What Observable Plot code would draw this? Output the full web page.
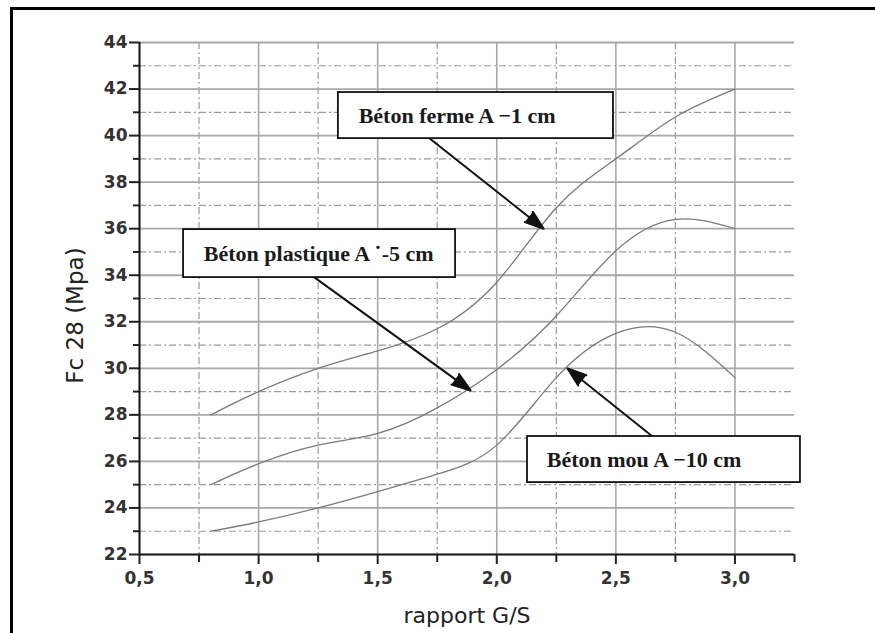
<!DOCTYPE html>
<html>
<head>
<meta charset="utf-8">
<script src="https://cdn.jsdelivr.net/npm/d3@7"></script>
<script src="https://cdn.jsdelivr.net/npm/@observablehq/plot@0.6"></script>
<style>
  html, body { margin: 0; padding: 0; background: #fff; overflow: hidden; }
  #wrap { position: relative; width: 875px; height: 633px; overflow: hidden; background: #fff; }
  .edge { position: absolute; background: #000; }
  #wrap svg { position: absolute; left: 0; top: 0; }
</style>
</head>
<body>
<div id="wrap">
  <div class="edge" style="left:10px; top:7px; width:880px; height:3px;"></div>
  <div class="edge" style="left:10px; top:7px; width:3px; height:640px;"></div>
</div>
<script>
// ---- data ----
const gsRatio = [0.8, 1.0, 1.25, 1.5, 1.75, 2.0, 2.25, 2.5, 2.75, 3.0];
const betonFerme = [28, 29, 30, 30.75, 31.7, 33.7, 36.9, 39.0, 40.8, 42];
const betonPlastique = [25, 25.9, 26.7, 27.2, 28.3, 29.95, 32.25, 35.05, 36.4, 36.0];
const betonMou = [23, 23.4, 24.0, 24.7, 25.45, 26.7, 29.6, 31.5, 31.55, 29.6];
const seriesNames = ["Béton ferme", "Béton plastique", "Béton mou"];

const xTickLabels = [0.5, 1.0, 1.5, 2.0, 2.5, 3.0];
const xMinorTicks = [0.75, 1.25, 1.75, 2.25, 2.75, 3.25];
const xGridMajor = [1.0, 1.5, 2.0, 2.5, 3.0];
const xGridMinor = [0.75, 1.25, 1.75, 2.25, 2.75];
const yTickLabels = [22, 24, 26, 28, 30, 32, 34, 36, 38, 40, 42, 44];
const yMinorTicks = [23, 25, 27, 29, 31, 33, 35, 37, 39, 41, 43];

// annotations (data units)
const noteText = ["Béton ferme A −1 cm", "Béton plastique A ˙-5 cm", "Béton mou A −10 cm"];
const noteX = [1.42, 0.77, 2.21];
const noteY = [40.86, 34.93, 26.08];
const boxX1 = [1.335, 0.685, 2.129];
const boxX2 = [2.49, 1.827, 3.275];
const boxY1 = [39.87, 33.90, 25.09];
const boxY2 = [41.85, 35.96, 27.07];
const arrowX1 = [1.713, 1.23, 2.654];
const arrowY1 = [39.92, 33.94, 27.07];
const arrowX2 = [2.197, 1.89, 2.297];
const arrowY2 = [36.0, 29.05, 29.99];

// ---- build tables ----
const seriesValues = [betonFerme, betonPlastique, betonMou];
const rows = [];
seriesValues.forEach((vals, s) => vals.forEach((v, i) => rows.push({series: seriesNames[s], gs: gsRatio[i], fc: v})));
const notes = noteText.map((t, i) => ({
  text: t, x: noteX[i], y: noteY[i],
  bx1: boxX1[i], bx2: boxX2[i], by1: boxY1[i], by2: boxY2[i],
  ax1: arrowX1[i], ay1: arrowY1[i], ax2: arrowX2[i], ay2: arrowY2[i]
}));

const fmtX = d => d.toFixed(1).replace(".", ",");
const dash = "7,3,2,3";

const chart = Plot.plot({
  width: 875,
  height: 633,
  marginLeft: 139,
  marginRight: 81,
  marginTop: 42,
  marginBottom: 79,
  x: {domain: [0.5, 3.25]},
  y: {domain: [22, 44]},
  style: {fontFamily: "DejaVu Sans", fontSize: "17px", color: "#222", background: "transparent"},
  marks: [
    Plot.gridY(yMinorTicks, {stroke: "#9a9a9a", strokeOpacity: 1, strokeWidth: 1.2, strokeDasharray: dash}),
    Plot.gridX(xGridMinor, {stroke: "#9a9a9a", strokeOpacity: 1, strokeWidth: 1.2, strokeDasharray: dash}),
    Plot.gridY(yTickLabels.slice(1), {stroke: "#a8a8a8", strokeOpacity: 1, strokeWidth: 1.8}),
    Plot.gridX(xGridMajor, {stroke: "#a8a8a8", strokeOpacity: 1, strokeWidth: 1.6}),
    Plot.line(rows, {x: "gs", y: "fc", z: "series", stroke: "#7a7a7a", strokeWidth: 1.3, curve: "natural"}),
    Plot.ruleX([0.5], {stroke: "#111", strokeWidth: 2}),
    Plot.ruleY([22], {stroke: "#111", strokeWidth: 2.2}),
    Plot.axisY(yTickLabels, {tickSize: 10, tickPadding: 2, tickFormat: d => String(d), stroke: "#222", strokeWidth: 2,
      fill: "#333", fontWeight: "bold", fontSize: 17, label: null}),
    Plot.axisY(yMinorTicks, {tickSize: 6, tickFormat: () => "", stroke: "#222", strokeWidth: 2, label: null}),
    Plot.axisX(xTickLabels, {tickSize: 10, tickPadding: 7, tickFormat: fmtX, stroke: "#222", strokeWidth: 2,
      fill: "#333", fontWeight: "bold", fontSize: 17, label: null}),
    Plot.axisX(xMinorTicks, {tickSize: 8, tickFormat: () => "", stroke: "#222", strokeWidth: 2, label: null}),
    Plot.arrow(notes, {x1: "ax1", y1: "ay1", x2: "ax2", y2: "ay2", stroke: "#111", strokeWidth: 2,
      headLength: 15, headAngle: 38}),
    Plot.rect(notes, {x1: "bx1", x2: "bx2", y1: "by1", y2: "by2", fill: "white", stroke: "#111", strokeWidth: 1.8}),
    Plot.text(notes, {x: "x", y: "y", text: "text", textAnchor: "start", fontFamily: "Liberation Serif",
      fontSize: 22, fontWeight: "bold", fill: "#1a1a1a"}),
    Plot.text(["Fc 28 (Mpa)"], {frameAnchor: "left", dx: -64, dy: 17, rotate: -90, textAnchor: "middle",
      lineAnchor: "middle", fontSize: 23, fill: "#222"}),
    Plot.text(["rapport G/S"], {frameAnchor: "bottom", dy: 61, textAnchor: "middle", lineAnchor: "middle",
      fontSize: 22, fill: "#222"})
  ]
});
chart.querySelectorAll('g[aria-label="arrow"]').forEach(g => g.setAttribute("fill", "#111"));
chart.querySelectorAll('g[aria-label="arrow"] path').forEach(p => p.setAttribute("fill", "#111"));
document.getElementById("wrap").appendChild(chart);
</script>
</body>
</html>
